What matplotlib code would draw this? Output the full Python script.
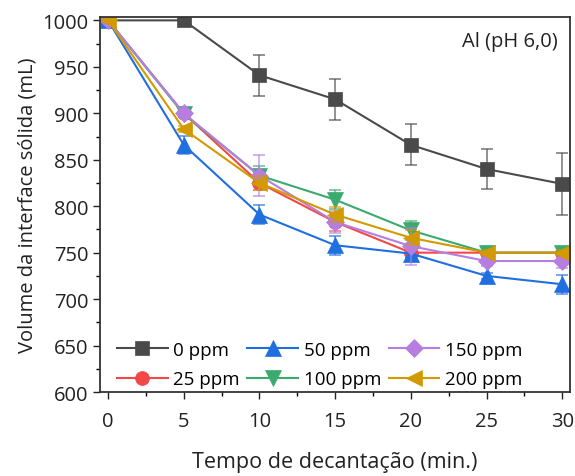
import numpy as np
import matplotlib
matplotlib.use("Agg")
import matplotlib.pyplot as plt

plt.rcParams['font.family'] = ['Open Sans', 'DejaVu Sans']

tempo = [0, 5, 10, 15, 20, 25, 30]
labels = ['0 ppm', '25 ppm', '50 ppm', '100 ppm', '150 ppm', '200 ppm']

v0 = [1000, 1000, 941, 915, 866, 840, 824]
e0 = [0, 0, 22, 22, 22, 22, 33]
v25 = [1000, 900, 825, 783, 750, 750, 750]
e25 = [0, 4, 8, 10, 6, 3, 3]
v50 = [1000, 866, 791, 758, 749, 725, 716]
e50 = [0, 10, 10, 10, 8, 3, 10]
v100 = [1000, 899, 833, 807, 774, 750, 750]
e100 = [0, 3, 10, 10, 10, 3, 3]
v150 = [1000, 900, 833, 783, 757, 741, 741]
e150 = [0, 3, 22, 12, 20, 5, 8]
v200 = [1000, 883, 825, 791, 766, 750, 750]
e200 = [0, 3, 8, 8, 8, 3, 3]

valores = [v0, v25, v50, v100, v150, v200]
erros = [e0, e25, e50, e100, e150, e200]
cores = ['#4a4a4a', '#f24848', '#1f6fe0', '#3aaa6e', '#b57ee0', '#d29a00']
marcadores = ['s', 'o', '^', 'v', 'D', '<']
tamanhos = [10, 10, 11, 11, 9, 11]

fig = plt.figure(figsize=(5.75, 4.77), dpi=100)
ax = fig.add_axes([0.174, 0.176, 0.817, 0.787])

for v, e, c, m, s, lab in zip(valores, erros, cores, marcadores, tamanhos, labels):
    # barras de erro mais claras
    ax.errorbar(tempo, v, yerr=e, fmt='none', ecolor=c, elinewidth=1.2,
                capsize=4, capthick=1.2, alpha=0.7)
    ax.plot(tempo, v, color=c, lw=1.5, marker=m, markersize=s, label=lab,
            markeredgewidth=0.5)

ax.set_xlim(-0.53, 30.5)
ax.set_ylim(600, 1004)
ax.set_xticks(range(0, 31, 5))
ax.set_xticks(np.arange(0, 31, 2.5), minor=True)
ax.set_yticks(range(600, 1001, 50))
ax.set_yticks(range(600, 1001, 25), minor=True)
ax.tick_params(axis='both', which='major', direction='out', length=5, width=1,
               labelsize=14.5, colors='#222222')
ax.tick_params(axis='x', which='major', pad=9)
ax.tick_params(axis='both', which='minor', direction='out', length=3, width=1)
for sp in ax.spines.values():
    sp.set_linewidth(1.3)
    sp.set_color('#333333')

ax.set_xlabel('Tempo de decantação (min.)', fontsize=15.5, labelpad=14, color='#222222')
ax.set_ylabel('Volume da interface sólida (mL)', fontsize=14.5, labelpad=3, color='#222222')

ax.text(0.975, 0.935, 'Al (pH 6,0)', transform=ax.transAxes, ha='right', va='center',
        fontsize=14.5, color='#222222')

ax.legend(ncol=3, loc='lower left', bbox_to_anchor=(0.0, -0.035), frameon=False,
          fontsize=13.5, handlelength=2.7, columnspacing=0.4, handletextpad=0.3,
          labelspacing=0.6)

fig.savefig('out.png', dpi=100)
